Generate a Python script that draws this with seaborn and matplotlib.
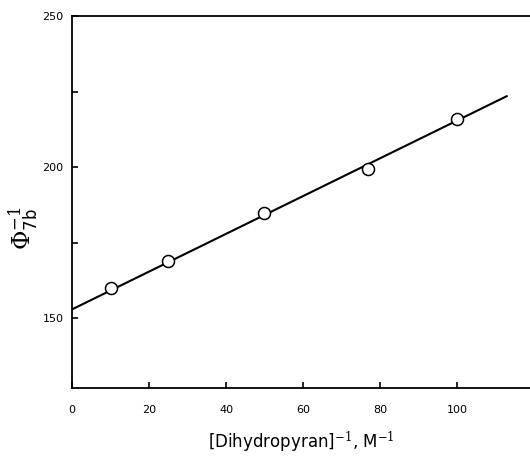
import numpy as np
import pandas as pd
import matplotlib
matplotlib.use('Agg')
import matplotlib.pyplot as plt
import seaborn as sns

# measured points
inv_dhp = [10, 25, 50, 77, 100]
inv_phi = [160, 169, 185, 199.5, 216]

# least-squares line as drawn
fit_x = [0, 113]
fit_intercept = 153.0
fit_slope = 0.624

x_ticks = [0, 20, 40, 60, 80, 100]
y_ticks = [150, 175, 200, 225, 250]
y_labels = ['150', '', '200', '', '250']

sns.set_style('ticks')
plt.rcParams['font.family'] = ['DejaVu Sans']
plt.rcParams['mathtext.fontset'] = 'dejavuserif'

fig = plt.figure(figsize=(5.3, 4.57), dpi=100)
ax = fig.add_axes([0.136, 0.151, 0.864, 0.814])

fit_df = pd.DataFrame({'x': fit_x})
fit_df['y'] = fit_intercept + fit_slope * fit_df['x']
sns.lineplot(data=fit_df, x='x', y='y', ax=ax, color='black', linewidth=1.5)

pts = pd.DataFrame({'x': inv_dhp, 'y': inv_phi})
sns.scatterplot(data=pts, x='x', y='y', ax=ax, s=75, facecolor='white',
                edgecolor='black', linewidth=1.1, zorder=3)

ax.set_xlim(0, 119)
ax.set_ylim(127, 250)
ax.set_xticks(x_ticks)
ax.set_yticks(y_ticks)
ax.set_yticklabels(y_labels)
ax.tick_params(direction='in', length=4, width=1.2, labelsize=8,
               colors='black', pad=6)
ax.tick_params(axis='x', pad=12)

ax.spines['right'].set_visible(False)
for s in ['left', 'bottom', 'top']:
    ax.spines[s].set_linewidth(1.3)
    ax.spines[s].set_color('black')

ax.set_xlabel(r'[Dihydropyran]$^{-1}$, M$^{-1}$', fontsize=12, color='black')
ax.xaxis.set_label_coords(0.5, -0.112)
ax.set_ylabel(r'$\Phi_{\mathrm{\mathsf{7b}}}^{-1}$', fontsize=17, color='black')
ax.yaxis.set_label_coords(-0.07, 0.43)

plt.savefig('out.png', dpi=100)
